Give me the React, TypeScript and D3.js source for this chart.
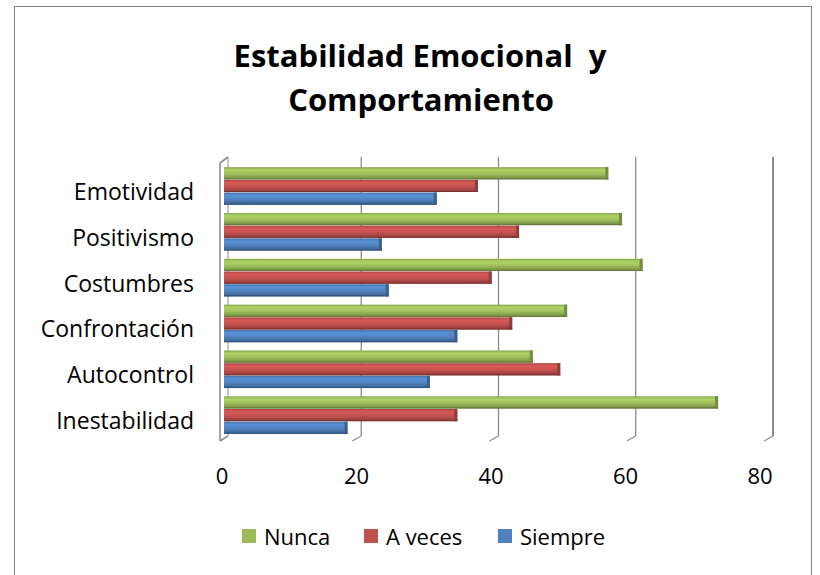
import * as d3 from 'd3';

const categories = ['Emotividad', 'Positivismo', 'Costumbres', 'Confrontación', 'Autocontrol', 'Inestabilidad'];
const seriesNames = ['Nunca', 'A veces', 'Siempre'];
const seriesColors = ['#9BBB59', '#C0504D', '#4F81BD'];
const nunca = [56, 58, 61, 50, 45, 72];
const aVeces = [37, 43, 39, 42, 49, 34];
const siempre = [31, 23, 24, 34, 30, 18];
const ticks = [0, 20, 40, 60, 80];

const seriesValues = [nunca, aVeces, siempre];
const FONT = '"Open Sans", Lato, sans-serif';

export default function App() {
  const width = 820;
  const height = 575;

  const x = d3.scaleLinear().domain([0, 80]).range([224, 773]);
  // labels sit on the front edge of the 3D floor, slightly offset
  const xLabel = d3.scaleLinear().domain([0, 80]).range([222, 760]);
  const y = d3.scaleBand<string>().domain(categories).range([163, 438]).paddingInner(0.18).paddingOuter(0.09);
  const ys = d3.scaleBand<string>().domain(seriesNames).range([0, y.bandwidth()]).paddingInner(0.04);

  const gridTop = 157;
  const gridBottom = 436;

  return (
    <svg width={width} height={height} style={{ position: 'absolute', left: 0, top: 0, background: '#fff' }}>
      <defs>
        {seriesColors.map((c, i) => {
          const base = d3.color(c)!;
          return (
            <linearGradient key={i} id={`g${i}`} x1="0" y1="0" x2="0" y2="1">
              <stop offset="0" stopColor={base.darker(0.3).toString()} />
              <stop offset="0.25" stopColor={base.brighter(0.35).toString()} />
              <stop offset="0.6" stopColor={c} />
              <stop offset="1" stopColor={base.darker(0.9).toString()} />
            </linearGradient>
          );
        })}
      </defs>

      <rect x={14.5} y={6.5} width={797} height={600} fill="#fff" stroke="#868686" strokeWidth={1} />

      <text x={420} y={67} textAnchor="middle" fontFamily={FONT} fontWeight="bold" fontSize={31} fill="#000" style={{ whiteSpace: 'pre' }}>
        {'Estabilidad Emocional  y'}
      </text>
      <text x={421} y={111} textAnchor="middle" fontFamily={FONT} fontWeight="bold" fontSize={31} fill="#000">
        Comportamiento
      </text>

      {/* gridlines with perspective foot */}
      {ticks.slice(1).map(t => (
        <g key={t} stroke="#8c8c8c" fill="none">
          <line x1={x(t)} x2={x(t)} y1={gridTop} y2={gridBottom} strokeWidth={t === 80 ? 2 : 1.3} />
          <line x1={x(t)} x2={x(t) - 9} y1={gridBottom} y2={gridBottom + 5} strokeWidth={1.2} />
        </g>
      ))}
      {/* left wall */}
      <g stroke="#8c8c8c" fill="none" strokeWidth={1.6}>
        <line x1={x(0) - 4} x2={x(0) - 4} y1={gridTop + 6} y2={gridBottom + 5} />
        <line x1={x(0) - 4} x2={x(0) + 4} y1={gridTop + 6} y2={gridTop} />
        <line x1={x(0) + 4} x2={x(0) + 4} y1={gridTop} y2={gridBottom} strokeWidth={1} />
        <line x1={x(0) - 4} x2={x(0) + 4} y1={gridBottom + 5} y2={gridBottom} />
      </g>

      {categories.map((cat, ci) => (
        <g key={cat}>
          {seriesNames.map((s, si) => {
            const v = seriesValues[si][ci];
            const by = (y(cat) ?? 0) + (ys(s) ?? 0);
            const bh = ys.bandwidth();
            const c = d3.color(seriesColors[si])!;
            return (
              <g key={s}>
                <rect x={x(0)} y={by} width={x(v) - x(0)} height={bh} fill={`url(#g${si})`} />
                <rect x={x(v) - 3} y={by} width={3} height={bh} fill={c.darker(0.8).toString()} />
                <line x1={x(0)} x2={x(v)} y1={by + bh - 0.5} y2={by + bh - 0.5} stroke={c.darker(1.2).toString()} strokeWidth={1} />
              </g>
            );
          })}
          <text
            x={194}
            y={(y(cat) ?? 0) + y.bandwidth() / 2 + 6}
            dy="0.35em"
            textAnchor="end"
            fontFamily={FONT}
            fontSize={23}
            fill="#000"
          >
            {cat}
          </text>
        </g>
      ))}

      {ticks.map(t => (
        <text key={t} x={xLabel(t)} y={484} textAnchor="middle" fontFamily={FONT} fontSize={22} fill="#000">
          {t}
        </text>
      ))}

      {seriesNames.map((s, i) => {
        const lx = [242, 364, 498][i];
        return (
          <g key={s}>
            <rect x={lx} y={529} width={14} height={14} fill={seriesColors[i]} />
            <text x={lx + 22} y={545} fontFamily={FONT} fontSize={22} fill="#000">
              {s}
            </text>
          </g>
        );
      })}
    </svg>
  );
}
